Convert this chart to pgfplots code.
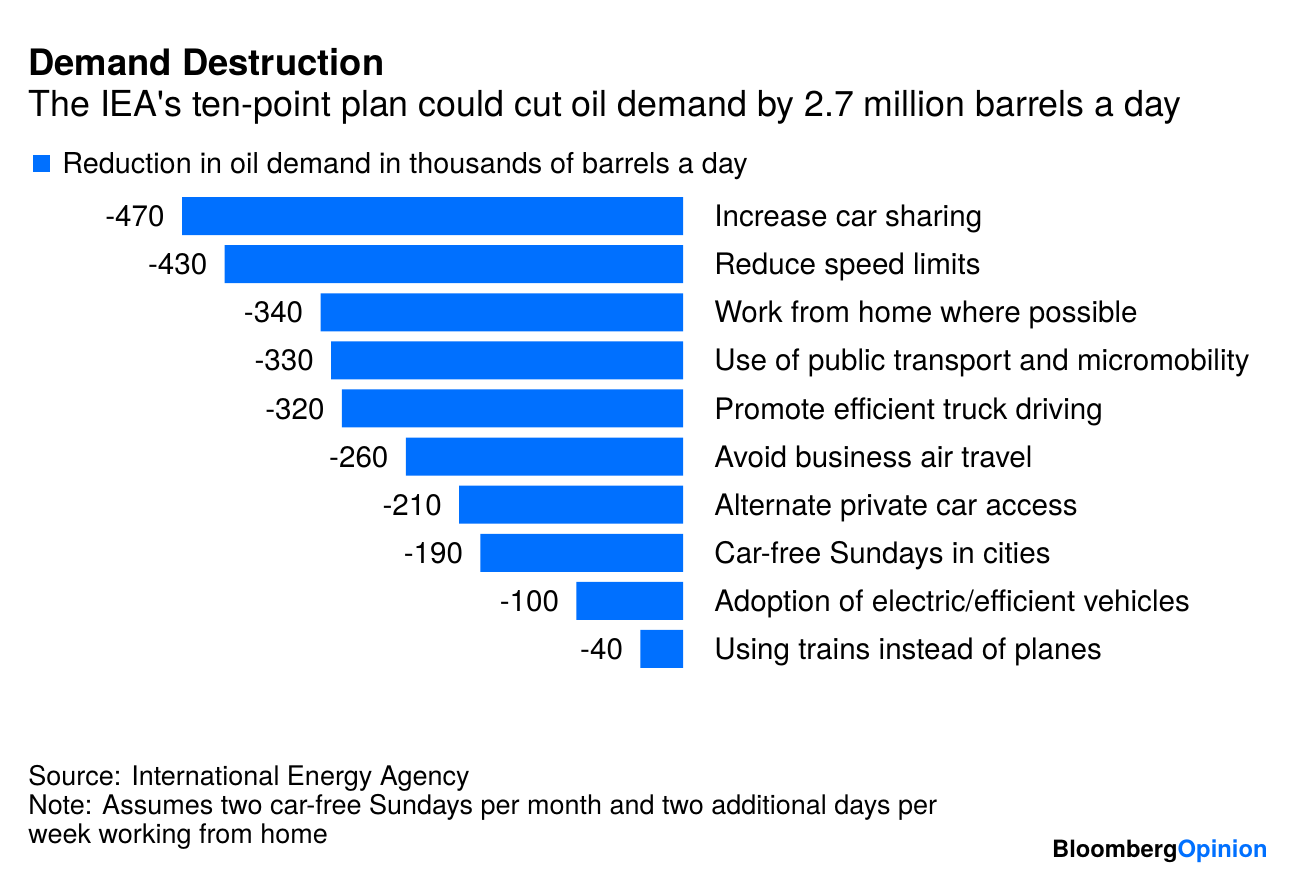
\documentclass[border=0pt]{standalone}
\usepackage{pgfplots}
\pgfplotsset{compat=1.18}
\usepackage{fontspec}
\setmainfont{TeX Gyre Heros}
\definecolor{bbblue}{RGB}{0,112,255}
\begin{document}
\begin{tikzpicture}
\path[fill=white,use as bounding box] (0pt,0pt) rectangle (648pt,437pt);
\begin{scope}[x=0.5pt,y=0.5pt]
\node[anchor=base west,inner sep=0pt,font=\fontsize{18.2}{20}\selectfont\bfseries] at (28,798) {Demand Destruction};
\node[anchor=base west,inner sep=0pt,font=\fontsize{17.9}{20}\selectfont] at (28,757) {The IEA\textquotesingle s ten-point plan could cut oil demand by 2.7 million barrels a day};
\fill[bbblue] (33,702) rectangle (50,719);
\node[anchor=base west,inner sep=0pt,font=\fontsize{14.4}{17}\selectfont] at (62,700) {Reduction in oil demand in thousands of barrels a day};
\node[anchor=base west,inner sep=0pt,font=\fontsize{13.5}{16}\selectfont] at (28,89) {Source: International Energy Agency};
\node[anchor=base west,inner sep=0pt,font=\fontsize{13.5}{16}\selectfont] at (28,60) {Note: Assumes two car-free Sundays per month and two additional days per};
\node[anchor=base west,inner sep=0pt,font=\fontsize{13.5}{16}\selectfont] at (28,31) {week working from home};
\node[anchor=base east,inner sep=0pt,font=\fontsize{11.9}{14}\selectfont\bfseries] at (1268,17) {Bloomberg\textcolor{bbblue}{Opinion}};
\end{scope}
\begin{axis}[
  at={(216.25pt,220.75pt)}, anchor=center,
  scale only axis, width=250.5pt, height=240.5pt,
  xmin=-470, xmax=0, ymin=-0.5, ymax=9.5, y dir=reverse,
  clip=false,
  axis line style={draw=none},
  major tick length=0pt,
  xtick=\empty,
  ytick={0,...,9},
  yticklabels={Increase car sharing, Reduce speed limits, Work from home where possible, Use of public transport and micromobility, Promote efficient truck driving, Avoid business air travel, Alternate private car access, Car-free Sundays in cities, Adoption of electric/efficient vehicles, Using trains instead of planes},
  yticklabel pos=right,
  yticklabel style={anchor=base west, inner sep=0pt, xshift=15.5pt, yshift=-5.3pt, font=\fontsize{14.8}{17}\selectfont},
  /pgf/number format/assume math mode=true,
]
\addplot[xbar, fill=bbblue, draw=none, bar width=19pt,
  nodes near coords,
  nodes near coords style={anchor=base east, inner sep=0pt, xshift=-8.5pt, yshift=-5.3pt, font=\fontsize{14.8}{17}\selectfont, text=black}]
  coordinates {(-470,0) (-430,1) (-340,2) (-330,3) (-320,4) (-260,5) (-210,6) (-190,7) (-100,8) (-40,9)};
\end{axis}
\end{tikzpicture}
\end{document}
